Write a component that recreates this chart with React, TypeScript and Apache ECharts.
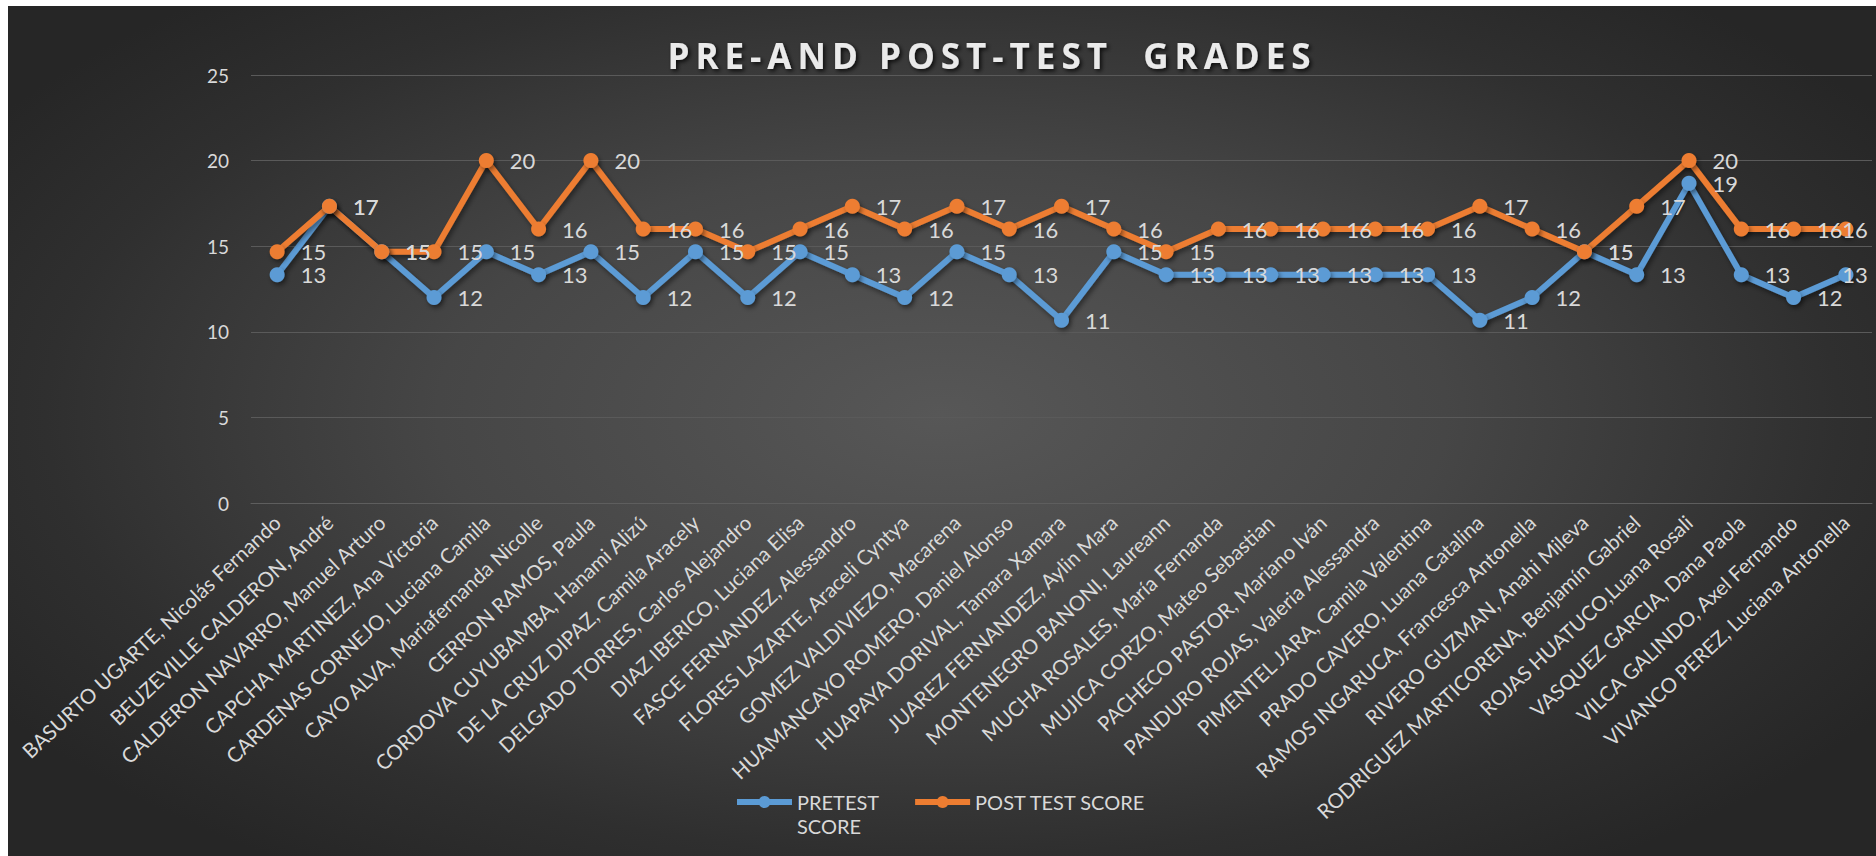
import React, { useEffect, useRef } from "react";
import * as echarts from "echarts";

const categories = [
  "BASURTO UGARTE, Nicolás Fernando",
  "BEUZEVILLE CALDERON, André",
  "CALDERON NAVARRO, Manuel Arturo",
  "CAPCHA MARTINEZ, Ana Victoria",
  "CARDENAS CORNEJO, Luciana Camila",
  "CAYO ALVA, Mariafernanda Nicolle",
  "CERRON RAMOS, Paula",
  "CORDOVA CUYUBAMBA, Hanami Alizú",
  "DE LA CRUZ DIPAZ, Camila Aracely",
  "DELGADO TORRES, Carlos Alejandro",
  "DIAZ IBERICO, Luciana Elisa",
  "FASCE FERNANDEZ, Alessandro",
  "FLORES LAZARTE, Araceli Cyntya",
  "GOMEZ VALDIVIEZO, Macarena",
  "HUAMANCAYO ROMERO, Daniel Alonso",
  "HUAPAYA DORIVAL, Tamara Xamara",
  "JUAREZ FERNANDEZ, Aylin Mara",
  "MONTENEGRO BANONI, Laureann",
  "MUCHA ROSALES, María Fernanda",
  "MUJICA CORZO, Mateo Sebastian",
  "PACHECO PASTOR, Mariano Iván",
  "PANDURO ROJAS, Valeria Alessandra",
  "PIMENTEL JARA, Camila Valentina",
  "PRADO CAVERO, Luana Catalina",
  "RAMOS INGARUCA, Francesca Antonella",
  "RIVERO GUZMAN, Anahi Mileva",
  "RODRIGUEZ MARTICORENA, Benjamín Gabriel",
  "ROJAS HUATUCO,Luana Rosali",
  "VASQUEZ GARCIA, Dana Paola",
  "VILCA GALINDO, Axel Fernando",
  "VIVANCO PEREZ, Luciana Antonella",
];

const pretestScores = [
  13.33, 17.33, 14.67, 12, 14.67, 13.33, 14.67, 12, 14.67, 12, 14.67, 13.33, 12,
  14.67, 13.33, 10.67, 14.67, 13.33, 13.33, 13.33, 13.33, 13.33, 13.33, 10.67, 12,
  14.67, 13.33, 18.67, 13.33, 12, 13.33,
];

const postTestScores = [
  14.67, 17.33, 14.67, 14.67, 20, 16, 20, 16, 16, 14.67, 16, 17.33, 16, 17.33, 16,
  17.33, 16, 14.67, 16, 16, 16, 16, 16, 17.33, 16, 14.67, 17.33, 20, 16, 16, 16,
];

const seriesNames = ["PRETEST SCORE", "POST TEST SCORE"];
const chartTitle = "PRE-AND POST-TEST  GRADES";

const FONT = "Lato, 'Noto Sans', sans-serif";
const TEXT = "#d9d9d9";

export default function App() {
  const ref = useRef<HTMLDivElement>(null);

  useEffect(() => {
    if (!ref.current) return;
    const el = ref.current;
    const chart = echarts.init(el, null, { renderer: "svg" });

    const shadow = {
      shadowColor: "rgba(0,0,0,0.45)",
      shadowBlur: 5,
      shadowOffsetX: 2,
      shadowOffsetY: 3,
    };

    const mkSeries = (name: string, values: number[], color: string) => ({
      name,
      type: "line",
      // the last point's label is pulled back inside the plot, as in the source
      data: values.map((v, i) =>
        i === values.length - 1 ? { value: v, label: { offset: [-27, 0] } } : v
      ),
      symbol: "circle",
      symbolSize: 15,
      lineStyle: { width: 6, color, ...shadow },
      itemStyle: { color, ...shadow },
      label: {
        show: true,
        position: "right",
        distance: 16,
        color: TEXT,
        fontFamily: FONT,
        fontSize: 22,
        formatter: (p: any) => String(Math.round(p.value)),
      },
      emphasis: { disabled: true },
    });

    chart.setOption({
      animation: false,
      backgroundColor: "transparent",
      title: {
        text: chartTitle,
        left: 984,
        top: 32,
        textAlign: "center",
        padding: 0,
        textStyle: {
          color: "#eaeaea",
          fontFamily: "'Open Sans', sans-serif",
          fontWeight: "bold",
          fontSize: 35,
          textShadowColor: "rgba(0,0,0,0.8)",
          textShadowBlur: 4,
          textShadowOffsetX: 2,
          textShadowOffsetY: 2,
        },
      },
      legend: {
        left: 721,
        top: 755,
        itemWidth: 55,
        itemHeight: 15,
        itemGap: 33,
        lineStyle: { width: 6 },
        data: [{ name: seriesNames[0] }, { name: seriesNames[1] }],
        formatter: (n: string) => (n === seriesNames[0] ? "\nPRETEST\nSCORE" : n),
        textStyle: {
          color: TEXT,
          fontFamily: FONT,
          fontSize: 20,
          lineHeight: 24,
        },
      },
      grid: {
        left: 243,
        right: 4,
        top: 69,
        bottom: 353,
        containLabel: false,
      },
      xAxis: {
        type: "category",
        data: categories,
        boundaryGap: true,
        axisLine: { show: true, lineStyle: { color: "#5e5e5e", width: 1 } },
        axisTick: { show: false },
        axisLabel: {
          interval: 0,
          rotate: 43,
          margin: 16,
          color: TEXT,
          fontFamily: FONT,
          fontSize: 20.5,
        },
      },
      yAxis: {
        type: "value",
        min: 0,
        max: 25,
        interval: 5,
        axisLine: { show: false },
        axisTick: { show: false },
        splitLine: { lineStyle: { color: "#5a5a5a", width: 1 } },
        axisLabel: {
          margin: 22,
          color: TEXT,
          fontFamily: FONT,
          fontSize: 19,
        },
      },
      series: [
        mkSeries(seriesNames[0], pretestScores, "#5B9BD5"),
        mkSeries(seriesNames[1], postTestScores, "#ED7D31"),
      ],
    });

    // widen the title's letter spacing like the source
    const spaceTitle = () => {
      el.querySelectorAll("text").forEach((t) => {
        if (t.textContent === chartTitle) t.setAttribute("letter-spacing", "6");
      });
    };
    chart.on("finished", spaceTitle);
    spaceTitle();
    const timer = setTimeout(spaceTitle, 50);

    return () => {
      clearTimeout(timer);
      chart.dispose();
    };
  }, []);

  return (
    <>
      <style>{`body{margin:6px 0 0 8px;overflow:hidden;background:#fff}`}</style>
      <div
        ref={ref}
        style={{
          width: 1868,
          height: 850,
          background:
            "radial-gradient(ellipse 60% 65% at 50% 48%, #575757 0%, #464646 45%, #2f2f2f 80%, #262626 100%)",
        }}
      />
    </>
  );
}
